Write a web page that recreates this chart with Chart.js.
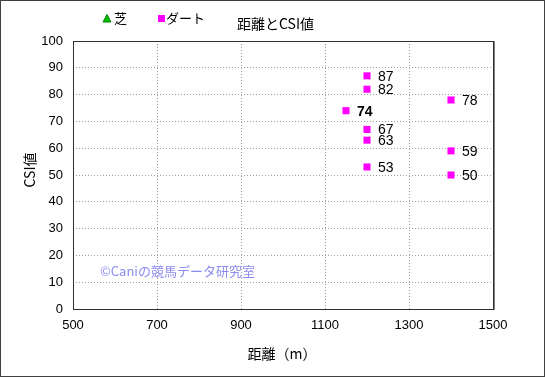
<!DOCTYPE html>
<html lang="ja">
<head>
  <meta charset="UTF-8" />
  <title>距離とCSI値</title>
  <script src="https://cdn.jsdelivr.net/npm/chart.js"></script>
  <style>
    html, body { margin: 0; padding: 0; background: #fff; }
    #wrap { position: relative; width: 545px; height: 377px; }
    #frame { position: absolute; left: 0; top: 0; width: 543px; height: 375px; border: 1px solid #404040; pointer-events: none; }
  </style>
</head>
<body>
  <div id="wrap">
    <canvas id="grafico" width="545" height="377"></canvas>
    <div id="frame"></div>
  </div>

  <script>
    const titulo = '距離とCSI値';
    const tituloX = '距離（m）';
    const tituloY = 'CSI値';
    const marca = '©Caniの競馬データ研究室';

    // 芝 has no points in this chart
    const shibaDist = [];
    const shibaCsi = [];

    const dirtDist = [1200, 1200, 1150, 1200, 1200, 1200, 1400, 1400, 1400];
    const dirtCsi  = [87, 82, 74, 67, 63, 53, 78, 59, 50];
    const destaque = [74]; // label drawn in bold

    const xTicks = [500, 700, 900, 1100, 1300, 1500];
    const yTicks = [0, 10, 20, 30, 40, 50, 60, 70, 80, 90, 100];

    const fonteNum = '"Liberation Sans", Arial, "Noto Sans CJK JP", sans-serif';
    const fonteJp = '"Noto Sans CJK JP", "Liberation Sans", sans-serif';

    const pontos = (xs, ys) => xs.map((x, i) => ({ x, y: ys[i] }));

    const extras = {
      id: 'extras',
      beforeDatasetsDraw(chart) {
        const { ctx } = chart;
        ctx.save();
        ctx.fillStyle = '#8c8cf0';
        ctx.font = '13px ' + fonteJp;
        ctx.textBaseline = 'middle';
        ctx.fillText(marca, 100, 271);
        ctx.restore();
      },
      afterDatasetsDraw(chart) {
        const { ctx, chartArea: a } = chart;
        ctx.save();
        // plot frame
        ctx.strokeStyle = '#303030';
        ctx.lineWidth = 1;
        ctx.strokeRect(a.left + 0.5, a.top + 0.5, a.right - a.left, a.bottom - a.top);
        ctx.strokeStyle = '#808080';
        ctx.beginPath();
        ctx.moveTo(a.right + 1.5, a.top);
        ctx.lineTo(a.right + 1.5, a.bottom + 1);
        ctx.stroke();

        // data labels
        const meta = chart.getDatasetMeta(1);
        ctx.fillStyle = '#000';
        ctx.textBaseline = 'middle';
        meta.data.forEach((p, i) => {
          const v = dirtCsi[i];
          ctx.font = (destaque.includes(v) ? 'bold ' : '') + '14px ' + fonteNum;
          ctx.fillText(String(v), p.x + 11, p.y + 1);
        });

        // title
        ctx.font = '14px ' + fonteJp;
        ctx.textAlign = 'left';
        ctx.fillText(titulo, 237, 24);

        // legend
        ctx.font = '13px ' + fonteJp;
        ctx.fillStyle = '#00c000';
        ctx.strokeStyle = '#008000';
        ctx.beginPath();
        ctx.moveTo(107, 14.5);
        ctx.lineTo(111, 22);
        ctx.lineTo(103, 22);
        ctx.closePath();
        ctx.fill();
        ctx.stroke();
        ctx.fillStyle = '#000';
        ctx.fillText('芝', 114, 18);
        ctx.fillStyle = '#ff00ff';
        ctx.fillRect(158, 15, 7, 7);
        ctx.fillStyle = '#000';
        ctx.fillText('ダート', 166, 18);

        // axis titles
        ctx.font = '14px ' + fonteJp;
        ctx.textAlign = 'center';
        ctx.fillText(tituloX, 282, 354);
        ctx.translate(30, 170);
        ctx.rotate(-Math.PI / 2);
        ctx.fillText(tituloY, 0, 0);
        ctx.restore();
      }
    };

    new Chart(document.getElementById('grafico'), {
      type: 'scatter',
      data: {
        datasets: [
          {
            label: '芝',
            data: pontos(shibaDist, shibaCsi),
            pointStyle: 'triangle',
            backgroundColor: '#00c000',
            borderColor: '#008000',
            pointRadius: 4
          },
          {
            label: 'ダート',
            data: pontos(dirtDist, dirtCsi),
            pointStyle: 'rect',
            backgroundColor: '#ff00ff',
            borderColor: '#ff00ff',
            borderWidth: 0,
            pointRadius: 5
          }
        ]
      },
      options: {
        responsive: false,
        animation: false,
        layout: { padding: { left: 0, right: 52, top: 41, bottom: 0 } },
        plugins: {
          legend: { display: false },
          tooltip: { enabled: false }
        },
        scales: {
          x: {
            type: 'linear',
            min: 500,
            max: 1500,
            afterBuildTicks: s => { s.ticks = xTicks.map(v => ({ value: v })); },
            afterFit: s => { s.height = 68; },
            border: { display: false, dash: [1, 2] },
            grid: { color: '#a0a0a0', drawTicks: false },
            ticks: {
              color: '#000', padding: 9, maxRotation: 0,
              font: { size: 13, family: fonteNum },
              callback: v => String(v)
            }
          },
          y: {
            min: 0,
            max: 100,
            afterBuildTicks: s => { s.ticks = yTicks.map(v => ({ value: v })); },
            afterFit: s => { s.width = 73; },
            border: { display: false, dash: [1, 2] },
            grid: { color: '#a0a0a0', drawTicks: false },
            ticks: {
              color: '#000', padding: 10,
              font: { size: 13, family: fonteNum },
              callback: v => String(v)
            }
          }
        }
      },
      plugins: [extras]
    });
  </script>
</body>
</html>
